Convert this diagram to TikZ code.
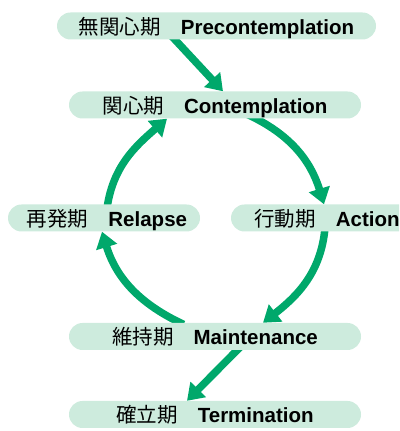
\documentclass[tikz,border=0pt]{standalone}
\usepackage{fontspec}
\setmainfont{Liberation Sans}
\newfontfamily\jp{Noto Sans CJK JP}
\usetikzlibrary{arrows.meta,calc,backgrounds}
\definecolor{boxfill}{HTML}{CDEBDD}
\definecolor{arrowgreen}{HTML}{00A86B}
\begin{document}
\begin{tikzpicture}[x=1pt,y=1pt,
  stage/.style={fill=boxfill, rounded corners=13.5pt, minimum height=27pt, inner sep=0pt,
    text height=18.6pt, text depth=2pt, font=\fontsize{20.5}{24}\selectfont},
  flow/.style={draw=arrowgreen, line width=7.5pt, -{Triangle[length=16pt,width=21pt]}}]
\useasboundingbox (0,0) rectangle (399,431);
\clip (0,0) rectangle (399,431);
\node[stage, minimum width=319pt] (pre) at (216.5,405) {{\jp 無関心期}\hspace{20pt}\textbf{Precontemplation}\hspace{6pt}};
\node[stage, minimum width=292pt] (con) at (215,326) {{\jp 関心期}\hspace{20pt}\textbf{Contemplation}};
\node[stage, minimum width=192pt] (rel) at (104,213) {\hspace{6pt}{\jp 再発期}\hspace{20pt}\textbf{Relapse}};
\node[stage, minimum width=192pt] (act) at (327,213) {{\jp 行動期}\hspace{20pt}\textbf{Action}};
\node[stage, minimum width=292pt] (mai) at (215,94.5) {{\jp 維持期}\hspace{20pt}\textbf{Maintenance}};
\node[stage, minimum width=292pt] (ter) at (215,16.5) {{\jp 確立期}\hspace{20pt}\textbf{Termination}};
\begin{scope}[on background layer]
\draw[flow] ($(pre.south)+(-45.5,4.3)$) -- ($(con.north)+(8,0)$);
\draw[flow] ($(rel.north)+(3,-4)$) to[out=82,in=221] ($(con.south)+(-48,0)$);
\draw[flow] ($(con.south)+(33,4)$) to[out=-25,in=107] ($(act.north)+(-3,0)$);
\draw[flow] ($(act.south)+(-2,4)$) to[out=-95,in=38] ($(mai.north)+(48,0)$);
\draw[flow] ($(mai.north)+(-31.4,-1.6)$) to[out=155,in=-73] ($(rel.south)+(-2,0)$);
\draw[flow] ($(mai.south)+(26,4)$) -- ($(ter.north)+(-28,0)$);
\end{scope}
\end{tikzpicture}
\end{document}
